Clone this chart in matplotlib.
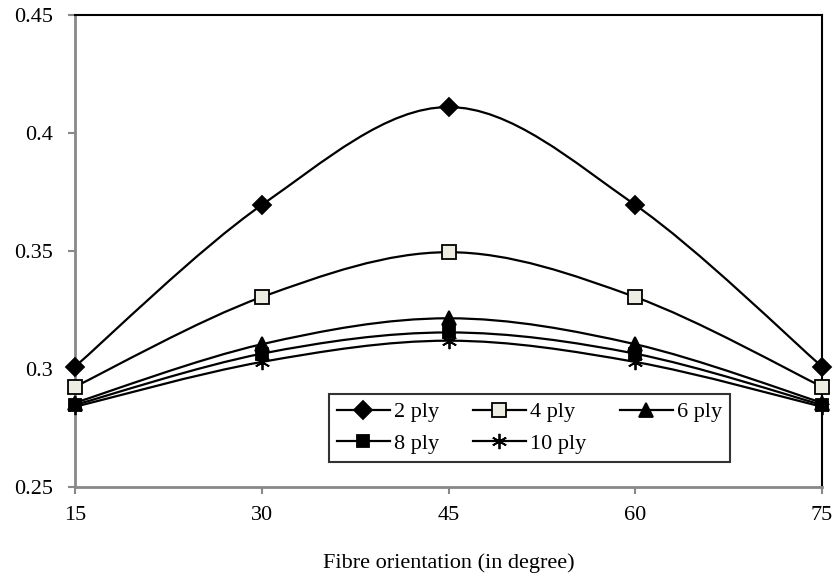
import matplotlib
matplotlib.use("Agg")
import matplotlib.pyplot as plt
from matplotlib.lines import Line2D
from matplotlib.path import Path
from matplotlib.patches import PathPatch

plt.rcParams["font.family"] = ["Liberation Serif", "DejaVu Serif"]

angles = [15, 30, 45, 60, 75]
ply_2 = [0.301, 0.3695, 0.411, 0.3695, 0.301]
ply_4 = [0.2925, 0.3305, 0.3495, 0.3305, 0.2925]
ply_6 = [0.2857, 0.3105, 0.3215, 0.3105, 0.2857]
ply_8 = [0.2848, 0.3065, 0.3155, 0.3065, 0.2848]
ply_10 = [0.2840, 0.3030, 0.3120, 0.3030, 0.2840]
labels = ["2 ply", "4 ply", "6 ply", "8 ply", "10 ply"]

styles = [
    dict(marker="D", markersize=9, markerfacecolor="black"),
    dict(marker="s", markersize=10, markerfacecolor="#eeede3"),
    dict(marker="^", markersize=10, markerfacecolor="black"),
    dict(marker="s", markersize=9, markerfacecolor="black"),
    dict(marker=(6, 2, 0), markersize=11, markerfacecolor="black"),
]


def smooth_path(xs, ys):
    # Excel style smoothed line: Catmull-Rom as cubic Bezier segments
    pts = list(zip(xs, ys))
    n = len(pts)
    verts = [pts[0]]
    codes = [Path.MOVETO]
    for i in range(n - 1):
        p0 = pts[max(i - 1, 0)]
        p1 = pts[i]
        p2 = pts[i + 1]
        p3 = pts[min(i + 2, n - 1)]
        c1 = (p1[0] + (p2[0] - p0[0]) / 6, p1[1] + (p2[1] - p0[1]) / 6)
        c2 = (p2[0] - (p3[0] - p1[0]) / 6, p2[1] - (p3[1] - p1[1]) / 6)
        verts += [c1, c2, p2]
        codes += [Path.CURVE4] * 3
    return Path(verts, codes)


fig = plt.figure(figsize=(8.36, 5.8), dpi=100)
ax = fig.add_axes([0.0897, 0.1603, 0.8936, 0.8138])

handles = []
for ys, lab, st in zip([ply_2, ply_4, ply_6, ply_8, ply_10], labels, styles):
    ax.add_patch(PathPatch(smooth_path(angles, ys), fill=False, edgecolor="black", lw=1.6, zorder=2))
    ax.plot(angles, ys, linestyle="none", color="black", markeredgecolor="black",
            markeredgewidth=1.3, zorder=3, clip_on=False, **st)
    handles.append(Line2D([], [], color="black", lw=1.6, markeredgecolor="black",
                          markeredgewidth=1.3, label=lab, **st))

ax.set_xlim(15, 75)
ax.set_ylim(0.25, 0.45)
ax.set_xticks(angles)
ax.set_yticks([0.25, 0.3, 0.35, 0.4, 0.45])
ax.set_yticklabels(["0.25", "0.3", "0.35", "0.4", "0.45"])
ax.tick_params(direction="out", length=5, width=1.5, color="#888888", labelsize=16)
ax.tick_params(axis="y", pad=11)
ax.tick_params(axis="x", pad=9)

for side in ["left", "bottom"]:
    ax.spines[side].set_color("#888888")
    ax.spines[side].set_linewidth(2)
for side in ["top", "right"]:
    ax.spines[side].set_color("black")
    ax.spines[side].set_linewidth(1.5)

ax.set_xlabel("Fibre orientation (in degree)", fontsize=16, labelpad=20)

# row-wise order: 2, 4, 6 / 8, 10
order = [0, 3, 1, 4, 2]
leg = ax.legend(handles=[handles[i] for i in order], ncol=3, loc="lower left",
                bbox_to_anchor=(0.325, 0.03, 0.567, 0.15), mode="expand",
                fontsize=16, frameon=True, fancybox=False, edgecolor="black",
                handlelength=2.4, handletextpad=0.2, columnspacing=0.8,
                borderpad=0.35, labelspacing=0.5)
leg.get_frame().set_linewidth(1.5)

fig.savefig("out.png", dpi=100)
plt.close(fig)
